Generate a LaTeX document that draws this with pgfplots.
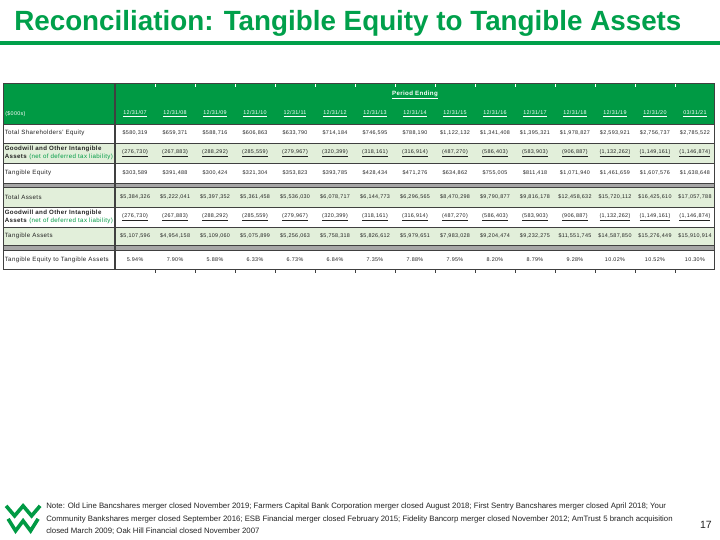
\documentclass[border=0pt]{standalone}
\usepackage{pgfplots}
\pgfplotsset{compat=1.18}
\usepackage{pgfplotstable}
\usepackage{fontspec}
\setmainfont{Liberation Sans}
\newfontfamily\tf[LetterSpace=6]{Liberation Sans}
\definecolor{hdr}{RGB}{0,154,68}
\definecolor{lgr}{RGB}{226,239,218}
\definecolor{sepg}{RGB}{166,166,166}
\definecolor{bord}{RGB}{64,64,64}
\definecolor{txt}{RGB}{35,35,35}
\definecolor{ttl}{RGB}{0,160,75}
\newcommand\vf{\tf\fontsize{5.4}{6}\selectfont}
\newcommand\lf{\tf\fontsize{6.15}{8.6}\selectfont}

\pgfplotstableread{
i date tse gw te ta gwb tga ratio
0 12/31/07 \$580,319 (276,730) \$303,589 \$5,384,326 (276,730) \$5,107,596 5.94\%
1 12/31/08 \$659,371 (267,883) \$391,488 \$5,222,041 (267,883) \$4,954,158 7.90\%
2 12/31/09 \$588,716 (288,292) \$300,424 \$5,397,352 (288,292) \$5,109,060 5.88\%
3 12/31/10 \$606,863 (285,559) \$321,304 \$5,361,458 (285,559) \$5,075,899 6.33\%
4 12/31/11 \$633,790 (279,967) \$353,823 \$5,536,030 (279,967) \$5,256,063 6.73\%
5 12/31/12 \$714,184 (320,399) \$393,785 \$6,078,717 (320,399) \$5,758,318 6.84\%
6 12/31/13 \$746,595 (318,161) \$428,434 \$6,144,773 (318,161) \$5,826,612 7.35\%
7 12/31/14 \$788,190 (316,914) \$471,276 \$6,296,565 (316,914) \$5,979,651 7.88\%
8 12/31/15 \$1,122,132 (487,270) \$634,862 \$8,470,298 (487,270) \$7,983,028 7.95\%
9 12/31/16 \$1,341,408 (586,403) \$755,005 \$9,790,877 (586,403) \$9,204,474 8.20\%
10 12/31/17 \$1,395,321 (583,903) \$811,418 \$9,816,178 (583,903) \$9,232,275 8.79\%
11 12/31/18 \$1,978,827 (906,887) \$1,071,940 \$12,458,632 (906,887) \$11,551,745 9.28\%
12 12/31/19 \$2,593,921 (1,132,262) \$1,461,659 \$15,720,112 (1,132,262) \$14,587,850 10.02\%
13 12/31/20 \$2,756,737 (1,149,161) \$1,607,576 \$16,425,610 (1,149,161) \$15,276,449 10.52\%
14 03/31/21 \$2,785,522 (1,146,874) \$1,638,648 \$17,057,788 (1,146,874) \$15,910,914 10.30\%
}\recon

\pgfplotsset{
  rowplot/.style={draw=none, mark=none, point meta=explicit symbolic,
    nodes near coords={#1},
    every node near coord/.append style={anchor=center, inner sep=0pt, font=\vf, text=txt}},
}

\begin{document}
\begin{tikzpicture}
\begin{axis}[
  set layers,
  width=720pt, height=540pt, scale only axis,
  xmin=0, xmax=720, ymin=0, ymax=540, y dir=reverse,
  axis line style={draw=none}, major tick length=0pt,
  xtick=\empty,
  ytick={133,153,173,197,217,236,260},
  yticklabels={
    {Total Shareholders' Equity},
    {\textbf{Goodwill and Other Intangible}\\\textbf{Assets} \textcolor{hdr}{(net of deferred tax liability)}},
    {Tangible Equity},
    {Total Assets},
    {\textbf{Goodwill and Other Intangible}\\\textbf{Assets} \textcolor{hdr}{(net of deferred tax liability)}},
    {Tangible Assets},
    {Tangible Equity to Tangible Assets}},
  yticklabel style={anchor=west, xshift=4.5pt, align=left, font=\lf, text=txt, inner sep=0pt},
  clip=false,
]
\begin{pgfonlayer}{axis background}
\fill[white] (0,0) rectangle (720,540);
\fill[ttl] (0,41) rectangle (720,45);
\fill[hdr] (3,84) rectangle (715,124);
\fill[lgr] (3,143) rectangle (715,163);
\fill[sepg] (3,183) rectangle (715,187);
\fill[lgr] (3,187) rectangle (715,207);
\fill[lgr] (3,227) rectangle (715,245);
\fill[sepg] (3,245) rectangle (715,250);
\pgfplotsinvokeforeach{124,143,163,183,187,207,227,245,250}{
  \draw[bord, line width=0.8pt] (3,#1) -- (715,#1);
}
\draw[bord, line width=1pt] (3,84) rectangle (715,270);
\draw[bord, line width=1.6pt] (115,84) -- (115,270);
\pgfplotsinvokeforeach{1,...,14}{
  \draw[bord, line width=0.6pt] (115+40*#1,270) -- (115+40*#1,273);
  \draw[white, line width=0.6pt] (115+40*#1,84) -- (115+40*#1,87);
}
\end{pgfonlayer}
% title
\node[anchor=base west, inner sep=0pt, text=ttl, font=\fontsize{27.8}{30}\selectfont\bfseries] at (14,31) {Reconciliation: Tangible Equity to Tangible Assets};
% header text
\node[text=white, inner sep=0pt, font=\lf\bfseries] at (415,95) {\underline{Period Ending}};
\node[anchor=west, text=white, inner sep=0pt, font=\vf] at (5,114) {(\$000s)};
% data rows
\addplot[rowplot={\underline{\pgfplotspointmeta}}, every node near coord/.append style={text=white}]
  table[x expr=135+40*\thisrow{i}, y expr=114, meta=date] {\recon};
\addplot[rowplot={\pgfplotspointmeta}] table[x expr=135+40*\thisrow{i}, y expr=133, meta=tse] {\recon};
\addplot[rowplot={\underline{\pgfplotspointmeta}}] table[x expr=135+40*\thisrow{i}, y expr=153, meta=gw] {\recon};
\addplot[rowplot={\pgfplotspointmeta}] table[x expr=135+40*\thisrow{i}, y expr=173, meta=te] {\recon};
\addplot[rowplot={\pgfplotspointmeta}] table[x expr=135+40*\thisrow{i}, y expr=197, meta=ta] {\recon};
\addplot[rowplot={\underline{\pgfplotspointmeta}}] table[x expr=135+40*\thisrow{i}, y expr=217, meta=gwb] {\recon};
\addplot[rowplot={\pgfplotspointmeta}] table[x expr=135+40*\thisrow{i}, y expr=236, meta=tga] {\recon};
\addplot[rowplot={\pgfplotspointmeta}] table[x expr=135+40*\thisrow{i}, y expr=260, meta=ratio] {\recon};
% logo
\draw[hdr, line width=3.6pt, line join=miter] (6,506) -- (14.5,516) -- (23,506) -- (31.5,516) -- (40,506);
\draw[hdr, line width=3.6pt, line join=miter] (8,519) -- (15.5,531) -- (23,521) -- (30.5,531) -- (38,519);
% footnote
\node[anchor=north west, align=left, inner sep=0pt, text=txt, font=\fontsize{7.8}{12.3}\selectfont] at (46,503)
{Note: Old Line Bancshares merger closed November 2019; Farmers Capital Bank Corporation merger closed August 2018; First Sentry Bancshares merger closed April 2018; Your\\
Community Bankshares merger closed September 2016; ESB Financial merger closed February 2015; Fidelity Bancorp merger closed November 2012; AmTrust 5 branch acquisition\\
closed March 2009; Oak Hill Financial closed November 2007};
\node[text=txt, inner sep=0pt, font=\fontsize{10.5}{12}\selectfont] at (706,525) {17};
\end{axis}
\end{tikzpicture}
\end{document}
